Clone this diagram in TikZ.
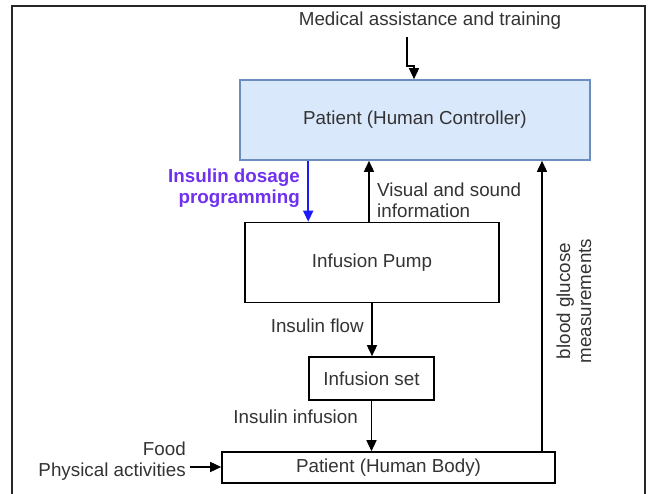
\documentclass[tikz,border=0pt]{standalone}
\usepackage{fontspec}
\setmainfont{Liberation Sans}
\usetikzlibrary{arrows.meta}
\definecolor{txt}{HTML}{333333}
\definecolor{pcfill}{HTML}{DAE8FC}
\definecolor{pcline}{HTML}{6C8EBF}
\definecolor{purp}{HTML}{7030F0}
\definecolor{bluearr}{HTML}{1A1AFF}
\tikzset{
  box/.style={draw=black, line width=1.6pt, rectangle, inner sep=0pt, anchor=center, text=txt, font=\fontsize{18.8}{21}\selectfont},
  lbl/.style={inner sep=0pt, text=txt, font=\fontsize{18.8}{21}\selectfont},
  conn/.style={line width=1.5pt, -{Triangle[length=11pt,width=10pt]}},
}
\begin{document}
\begin{tikzpicture}[x=1pt,y=-1pt]
\useasboundingbox (0,0) rectangle (648,494);
% outer frame
\draw[line width=1.8pt, color=black!85] (12,520) -- (12,6) -- (645,6) -- (645,520);

\node[lbl] (med) at (430,21) {Medical assistance and training};
\node[box, draw=pcline, fill=pcfill, minimum width=350pt, minimum height=80pt] (pc) at (415,120) {Patient (Human Controller)};
\node[box, minimum width=254pt, minimum height=80pt] (pump) at (372,262.5) {Infusion Pump};
\node[box, minimum width=125pt, minimum height=43pt] (set) at (371.5,378.5) {Infusion set};
\node[box, minimum width=333pt, minimum height=31pt] (body) at (388.5,467.5) {Patient (Human Body)};

\node[lbl, anchor=east, align=right, text=purp, font=\fontsize{18.8}{20.5}\selectfont\bfseries] (idp) at (300,188) {Insulin dosage\\programming};
\node[lbl, anchor=west, align=left] (vsi) at (377,200) {Visual and sound\\information};
\node[lbl, anchor=east] (iflow) at (364,326) {Insulin flow};
\node[lbl, anchor=east] (iinf) at (358,417) {Insulin infusion};
\node[lbl, anchor=east, align=right] (food) at (186,461) {Food\\Physical activities};
\node[lbl, rotate=90, align=center] (bgm) at (574,301) {blood glucose\\measurements};

% connectors
\coordinate (m1) at (407,37);
\coordinate (m2) at (407,66);
\coordinate (m3) at (414,66);
\draw[conn] (m1) -- (m2) -- (m3) -- (m3 |- pc.north);
\draw[conn, draw=bluearr] (pc.south -| set.west) -- (pump.north -| set.west);
\coordinate (vx) at (369,0);
\draw[conn] (pump.north -| vx) -- (pc.south -| vx);
\draw[conn] (pump.south) -- (set.north -| pump.south);
\draw[conn] (set.south) -- (body.north -| set.south);
\coordinate (gx) at (542,0);
\draw[conn] (body.north -| gx) -- (pc.south -| gx);
\coordinate (fx) at (190,467);
\draw[conn] (fx) -- (body.west |- fx);
\end{tikzpicture}
\end{document}
